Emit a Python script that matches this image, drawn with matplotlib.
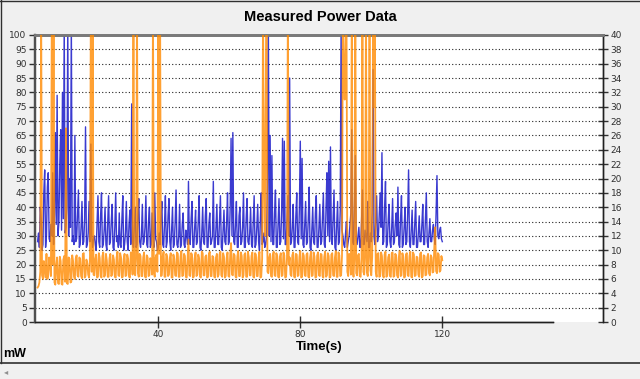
import numpy as np
import matplotlib.pyplot as plt
from matplotlib.lines import Line2D

# sampling grid of the recording (s)
t_start = 6.0
t_step = 0.25

# blue trace, mW (left axis), one row per 10 s
power_mw = [
    28, 31, 26, 40, 36, 25, 27, 45, 53, 26, 30, 47, 52, 29, 28, 34, 30, 52, 27, 38,
    66, 34, 79, 30, 35, 55, 67, 32, 80, 36, 105, 31, 33, 40, 105, 30, 50, 33, 105, 28,
    30, 27, 65, 28, 29, 38, 46, 26, 27, 33, 42, 27, 28, 36, 68, 26, 27, 31, 42, 28,
    62, 30, 26, 29, 30, 27, 25, 34, 44, 28, 26, 37, 45, 26, 27, 32, 40, 27, 25, 35,
    44, 27, 28, 35, 41, 26, 25, 33, 45, 28, 30, 26, 38, 27, 26, 36, 44, 25, 27, 31,
    42, 28, 25, 34, 39, 27, 76, 28, 26, 33, 40, 26, 27, 37, 43, 28, 26, 30, 41, 27,
    28, 33, 44, 27, 26, 35, 40, 26, 27, 38, 30, 26, 45, 29, 28, 25, 26, 31, 27, 36,
    42, 27, 26, 34, 44, 26, 28, 37, 43, 28, 25, 32, 40, 26, 27, 35, 46, 27, 26, 30,
    41, 26, 27, 34, 38, 27, 26, 32, 30, 27, 49, 28, 27, 36, 42, 26, 26, 33, 39, 27,
    28, 35, 44, 26, 25, 31, 40, 28, 27, 37, 43, 26, 26, 34, 38, 27, 28, 30, 49, 26,
    26, 33, 41, 27, 27, 36, 44, 26, 25, 32, 39, 28, 27, 35, 45, 27, 28, 40, 64, 30,
    66, 28, 27, 34, 42, 26, 26, 37, 40, 27, 28, 33, 45, 26, 26, 36, 43, 28, 27, 31,
    40, 27, 26, 35, 44, 26, 27, 33, 41, 28, 25, 36, 45, 27, 28, 31, 26, 27, 30, 48,
    105, 30, 65, 28, 58, 27, 27, 38, 46, 26, 26, 34, 43, 27, 28, 39, 64, 29, 63, 27,
    27, 35, 44, 30, 85, 27, 28, 33, 41, 26, 26, 37, 45, 28, 27, 40, 63, 29, 57, 27,
    26, 34, 42, 27, 28, 36, 47, 26, 25, 32, 40, 28, 27, 38, 44, 26, 26, 33, 41, 27,
    28, 36, 45, 27, 26, 40, 52, 30, 56, 28, 61, 29, 27, 37, 46, 26, 25, 34, 42, 27,
    28, 39, 105, 32, 30, 27, 26, 31, 35, 26, 28, 30, 34, 38, 67, 28, 27, 40, 58, 29,
    27, 30, 33, 26, 26, 35, 46, 27, 27, 32, 30, 28, 42, 26, 26, 31, 28, 38, 88, 30,
    27, 36, 44, 28, 30, 38, 45, 33, 59, 27, 28, 40, 49, 26, 27, 35, 41, 28, 26, 33,
    43, 27, 28, 34, 38, 30, 47, 27, 26, 36, 44, 26, 27, 33, 40, 27, 28, 38, 53, 28,
    26, 32, 39, 27, 27, 35, 42, 26, 26, 31, 37, 28, 28, 34, 41, 27, 27, 36, 45, 28,
    26, 31, 36, 28, 28, 32, 34, 29, 27, 38, 51, 30, 29, 32, 33, 29, 28,
]

# orange trace (right axis scale), one row per 10 s
current_ma = [
    4.8, 5.0, 5.5, 7.0, 45, 6.5, 6.0, 8.5, 7.5, 6.2, 9.5, 6.0, 6.5, 9.0, 8.0, 6.4, 45, 8.0, 45, 5.5,
    5.2, 8.0, 9.0, 5.4, 5.3, 9.1, 8.5, 5.3, 5.2, 8.7, 9.2, 5.6, 27, 5.4, 5.3, 9.0, 8.8, 5.5, 5.6, 9.3,
    8.5, 6.3, 6.0, 8.9, 9.3, 6.5, 6.3, 9.0, 8.8, 6.4, 6.1, 9.5, 9.6, 6.2, 6.4, 8.7, 8.2, 6.6, 6.2, 9.1,
    45, 7.0, 45, 6.6, 6.5, 8.8, 9.4, 6.2, 6.3, 9.6, 8.9, 6.4, 6.2, 9.2, 9.7, 6.3, 6.5, 9.5, 8.6, 6.3,
    6.3, 8.9, 9.5, 6.4, 6.6, 9.3, 8.7, 6.3, 6.2, 9.0, 9.8, 6.5, 6.4, 9.6, 9.0, 6.2, 6.3, 8.8, 9.5, 6.4,
    6.5, 9.4, 8.8, 6.3, 6.2, 9.7, 9.6, 6.6, 45, 7.0, 6.5, 9.1, 45, 6.8, 6.3, 9.5, 9.2, 6.4, 6.4, 9.0,
    9.7, 6.3, 6.2, 9.3, 9.0, 6.4, 6.5, 8.9, 8.5, 6.6, 45, 6.8, 6.3, 9.0, 9.4, 7.0, 45, 9.5, 45, 6.4,
    6.5, 9.2, 9.8, 6.3, 6.3, 9.5, 9.1, 6.4, 6.6, 8.9, 9.6, 6.2, 6.2, 9.4, 8.8, 6.5, 6.4, 9.7, 9.5, 6.3,
    6.3, 9.1, 9.9, 6.4, 6.5, 9.5, 9.2, 6.3, 6.2, 9.0, 11.5, 6.5, 6.4, 9.6, 9.4, 6.2, 6.3, 8.9, 9.7, 6.4,
    6.6, 9.4, 8.9, 6.3, 6.2, 9.8, 9.6, 6.5, 6.5, 9.1, 9.3, 6.2, 6.3, 9.5, 9.8, 6.4, 6.4, 9.2, 9.0, 6.3,
    6.2, 9.0, 9.5, 6.3, 6.6, 9.4, 9.8, 6.5, 6.3, 9.6, 9.1, 6.2, 6.4, 8.9, 9.7, 6.4, 6.3, 9.3, 11.0, 6.6,
    6.5, 9.5, 9.3, 6.3, 6.2, 9.1, 9.9, 6.4, 6.4, 9.7, 9.2, 6.2, 6.5, 9.4, 9.6, 6.3, 6.3, 9.8, 9.0, 6.5,
    6.5, 9.2, 9.7, 6.3, 6.2, 9.6, 9.4, 6.4, 6.4, 9.0, 9.8, 6.2, 6.3, 8.8, 45, 20, 12, 30, 45, 7.0,
    6.8, 9.0, 9.5, 6.4, 6.3, 9.3, 9.8, 6.5, 6.4, 9.6, 9.2, 6.3, 6.2, 9.1, 9.6, 6.4, 6.5, 9.7, 9.3, 6.2,
    6.3, 9.0, 45, 8.0, 9.0, 6.6, 6.4, 9.3, 9.7, 6.3, 6.2, 9.5, 9.4, 6.4, 6.5, 9.1, 9.9, 6.2, 6.3, 9.6,
    9.2, 6.5, 6.4, 9.4, 9.6, 6.3, 6.2, 9.0, 9.8, 6.4, 6.5, 9.7, 9.1, 6.2, 6.3, 9.3, 9.7, 6.5, 6.4, 9.5,
    9.4, 6.4, 6.2, 9.1, 9.8, 6.3, 6.5, 9.6, 9.2, 6.2, 6.3, 9.4, 9.6, 6.5, 6.4, 9.0, 9.9, 6.3, 6.3, 9.7,
    9.3, 6.4, 6.5, 9.2, 45, 36, 31, 38, 45, 7.0, 6.4, 9.5, 9.0, 6.6, 45, 7.2, 6.3, 9.0, 45, 6.8,
    6.5, 9.3, 9.5, 6.4, 6.3, 9.0, 45, 7.0, 6.6, 9.2, 45, 6.9, 6.4, 9.4, 45, 7.2, 6.5, 9.1, 45, 30,
    45, 7.0, 6.3, 9.5, 9.6, 6.3, 6.4, 9.7, 9.2, 6.5, 6.2, 9.4, 9.8, 6.3, 6.5, 9.0, 9.4, 6.4, 6.3, 9.6,
    9.7, 6.3, 6.4, 9.5, 9.3, 6.5, 6.2, 9.0, 9.9, 6.4, 6.5, 9.6, 9.1, 6.2, 6.3, 9.4, 9.6, 6.5, 6.4, 9.2,
    9.8, 6.3, 6.2, 9.7, 9.4, 6.4, 6.5, 9.1, 9.0, 6.6, 6.3, 9.5, 9.7, 6.2, 6.4, 9.3, 9.2, 6.5, 6.6, 9.0,
    9.5, 6.8, 6.5, 9.3, 9.0, 6.9, 7.0, 10.5, 13.2, 7.1, 6.8, 9.6, 9.4, 7.0, 7.2, 9.2, 8.6,
]

t_blue = t_start + t_step * np.arange(len(power_mw))
t_orange = t_start + t_step * np.arange(len(current_ma))

left_ticks = list(range(0, 101, 5))
right_ticks = list(range(0, 41, 2))
time_ticks = [40, 80, 120]

W, H = 640, 379
fig = plt.figure(figsize=(W / 100, H / 100), dpi=100, facecolor='#f0f0f0')
ax = fig.add_axes([35 / W, 1 - 322 / H, (603 - 35) / W, (322 - 35) / H])
ax.set_facecolor('white')

x_left = (35 - 16.3) / 3.55
x_right = (603 - 16.3) / 3.55
ax.set_xlim(x_left, x_right)
ax.set_ylim(0, 100)

for v in left_ticks[1:-1]:
    ax.axhline(v, color='#222222', lw=0.8, ls=(0, (1, 2)), zorder=1)

ax.plot(t_blue, power_mw, color='#1818c8', lw=1.0, alpha=0.85, zorder=3)

ax2 = ax.twinx()
ax2.set_ylim(0, 40)
ax2.plot(t_orange, current_ma, color='#ff8a00', lw=1.3, alpha=0.8, zorder=3)

ax.set_yticks(left_ticks)
ax.set_yticklabels([str(v) for v in left_ticks])
ax2.set_yticks(right_ticks)
ax2.set_yticklabels([str(v) for v in right_ticks])
ax.set_xticks(time_ticks)
ax.set_xticklabels([str(v) for v in time_ticks])

ax.tick_params(axis='y', direction='out', length=4, width=1, colors='#303030',
               labelsize=6.5, pad=2)
ax.tick_params(axis='x', direction='inout', length=8, width=1, colors='#303030',
               labelsize=6.5, pad=2)
ax2.tick_params(axis='y', direction='inout', length=7, width=1, colors='#303030',
                labelsize=6.5, pad=2)

for a in (ax, ax2):
    a.spines['top'].set_color('#7a7a7a')
    a.spines['top'].set_linewidth(2)
    a.spines['left'].set_color('#505050')
    a.spines['left'].set_linewidth(1.6)
    a.spines['right'].set_color('#202020')
    a.spines['right'].set_linewidth(1)
    a.spines['bottom'].set_color('#202020')
    a.spines['bottom'].set_linewidth(1)
    a.spines['bottom'].set_bounds(x_left, (553 - 16.3) / 3.55)

fig.text(320 / W, 1 - 17 / H, 'Measured Power Data', ha='center', va='center',
         fontsize=10.5, fontweight='bold', family='Liberation Sans')
fig.text(319 / W, 1 - 347 / H, 'Time(s)', ha='center', va='center',
         fontsize=9.5, fontweight='bold', family='Liberation Sans')
fig.text(3 / W, 1 - 354 / H, 'mW', ha='left', va='center',
         fontsize=9, fontweight='bold', family='Liberation Sans')

# window frame and status bar line
fig.add_artist(Line2D([0, 1], [1 - 362.5 / H] * 2, color='#303030', lw=1.2))
fig.add_artist(Line2D([0.5 / W] * 2, [1 - 362.5 / H, 1], color='#303030', lw=1))
fig.add_artist(Line2D([0, 1], [1 - 0.5 / H] * 2, color='#303030', lw=1))
fig.text(6 / W, 1 - 372 / H, '\u25c2', ha='center', va='center', fontsize=6, color='#909090')

fig.savefig('out.png', dpi=100, facecolor=fig.get_facecolor())
